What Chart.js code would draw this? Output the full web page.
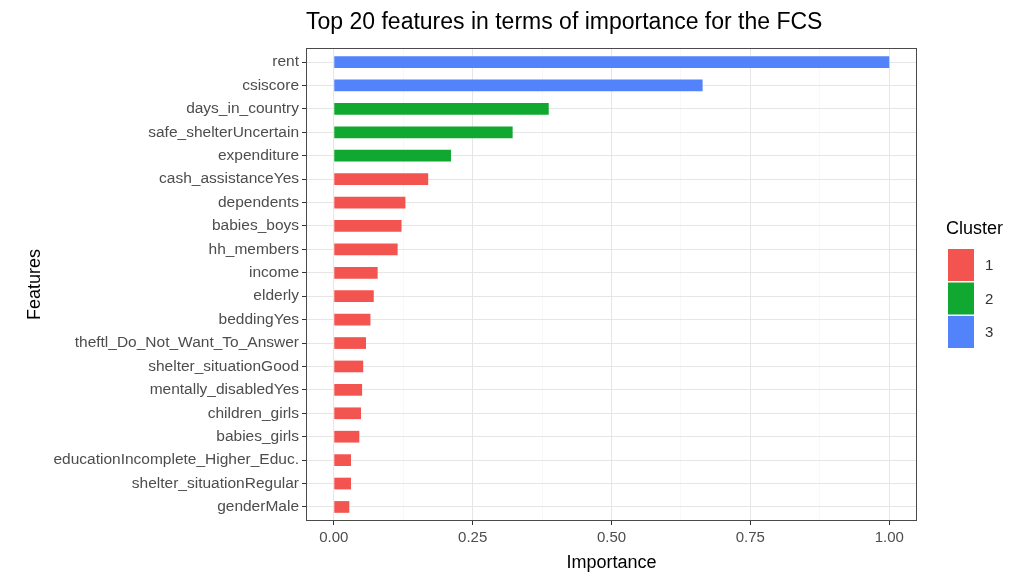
<!DOCTYPE html>
<html>
<head>
<meta charset="utf-8">
<script src="https://cdn.jsdelivr.net/npm/chart.js@4.4.1/dist/chart.umd.min.js"></script>
<style>
  body { margin: 0; background: #fff; }
  #wrap { width: 1022px; height: 574px; }
</style>
</head>
<body>
<div id="wrap"><canvas id="chart" width="1022" height="574"></canvas></div>
<script>
// ====== DATA ======
const features = [
    'rent', 'csiscore', 'days_in_country', 'safe_shelterUncertain', 'expenditure',
    'cash_assistanceYes', 'dependents', 'babies_boys', 'hh_members', 'income',
    'elderly', 'beddingYes', 'theftl_Do_Not_Want_To_Answer', 'shelter_situationGood',
    'mentally_disabledYes', 'children_girls', 'babies_girls',
    'educationIncomplete_Higher_Educ.', 'shelter_situationRegular', 'genderMale'
];
const importance = [
    1.00, 0.664, 0.387, 0.322, 0.211,
    0.170, 0.129, 0.122, 0.115, 0.079,
    0.072, 0.066, 0.058, 0.053,
    0.051, 0.049, 0.046,
    0.031, 0.031, 0.028
];
const clusters = [3, 3, 2, 2, 2, 1, 1, 1, 1, 1, 1, 1, 1, 1, 1, 1, 1, 1, 1, 1];
const clusterNames = ['1', '2', '3'];
const xTickValues = [0, 0.25, 0.5, 0.75, 1];

const clusterColors = { '1': '#F4544F', '2': '#10A830', '3': '#5283FA' };
const FONT = '"Liberation Sans", Arial, sans-serif';

Chart.defaults.font.family = FONT;

// minor grid lines sit half way between major ticks, like ggplot
const xMinor = xTickValues.slice(1).map((v, i) => (v + xTickValues[i]) / 2);
const isMajor = v => xTickValues.some(t => Math.abs(t - v) < 1e-9);

const bgPlugin = {
    id: 'bg',
    beforeDraw(chart) {
        const ctx = chart.ctx;
        ctx.save();
        ctx.fillStyle = '#fff';
        ctx.fillRect(0, 0, chart.width, chart.height);
        ctx.restore();
    },
    afterDraw(chart) {
        const { ctx, chartArea: a } = chart;
        ctx.save();
        // panel border
        ctx.strokeStyle = '#4a4a4a';
        ctx.lineWidth = 1;
        ctx.strokeRect(a.left + 0.5, a.top + 0.5, a.right - a.left - 1, a.bottom - a.top - 1);

        // legend
        const lx = a.right + 31;
        ctx.fillStyle = '#000';
        ctx.font = '18px ' + FONT;
        ctx.textBaseline = 'middle';
        ctx.textAlign = 'left';
        ctx.fillText('Cluster', a.right + 29, 229);
        clusterNames.forEach((name, i) => {
            const y = 249 + i * 33.5;
            ctx.fillStyle = clusterColors[name];
            ctx.fillRect(lx, y, 26, 32);
            ctx.fillStyle = '#333';
            ctx.font = '15px ' + FONT;
            ctx.fillText(name, lx + 37, y + 17);
        });
        ctx.restore();
    }
};

new Chart(document.getElementById('chart'), {
    type: 'bar',
    data: {
        datasets: [{
            data: features.map((f, i) => ({ x: importance[i], y: i })),
            backgroundColor: clusters.map(c => clusterColors[String(c)]),
            borderWidth: 0,
            barPercentage: 0.5,
            categoryPercentage: 1
        }]
    },
    options: {
        indexAxis: 'y',
        responsive: false,
        animation: false,
        layout: { padding: { left: 0, right: 105, top: 0, bottom: 0 } },
        plugins: {
            legend: { display: false },
            tooltip: { enabled: false },
            title: {
                display: true,
                text: 'Top 20 features in terms of importance for the FCS',
                align: 'start',
                fullSize: false,
                color: '#000',
                font: { size: 23, weight: 'normal' },
                padding: { top: 9, bottom: 11.4 }
            }
        },
        scales: {
            x: {
                type: 'linear',
                min: -0.05,
                max: 1.05,
                afterBuildTicks: scale => {
                    scale.ticks = xTickValues.concat(xMinor).sort((a, b) => a - b).map(v => ({ value: v }));
                },
                afterFit: scale => { scale.height = 53; },
                border: { display: false },
                grid: {
                    color: c => isMajor(c.tick.value) ? '#e6e6e6' : '#f3f3f3',
                    lineWidth: c => isMajor(c.tick.value) ? 1 : 0.6,
                    tickColor: c => isMajor(c.tick.value) ? '#333' : 'rgba(0,0,0,0)',
                    tickLength: 4
                },
                ticks: {
                    autoSkip: false,
                    maxRotation: 0,
                    padding: 4,
                    color: '#4d4d4d',
                    font: { size: 15 },
                    callback: v => isMajor(v) ? v.toFixed(2) : ''
                },
                title: {
                    display: true,
                    text: 'Importance',
                    color: '#000',
                    font: { size: 18 },
                    padding: { top: 0, bottom: 0 }
                }
            },
            y: {
                type: 'linear',
                min: -0.6,
                max: features.length - 0.4,
                reverse: true,
                offset: false,
                afterBuildTicks: scale => {
                    scale.ticks = features.map((f, i) => ({ value: i }));
                },
                afterFit: scale => { scale.width = 306; },
                border: { display: false },
                grid: {
                    offset: false,
                    color: '#e6e6e6',
                    lineWidth: 1,
                    tickColor: '#333',
                    tickLength: 4
                },
                ticks: {
                    autoSkip: false,
                    padding: 3,
                    color: '#4d4d4d',
                    font: { size: 15.5 },
                    callback: v => features[v]
                },
                title: {
                    display: true,
                    text: 'Features',
                    color: '#000',
                    font: { size: 18 },
                    padding: { top: 24, bottom: 0 }
                }
            }
        }
    },
    plugins: [bgPlugin]
});
</script>
</body>
</html>
